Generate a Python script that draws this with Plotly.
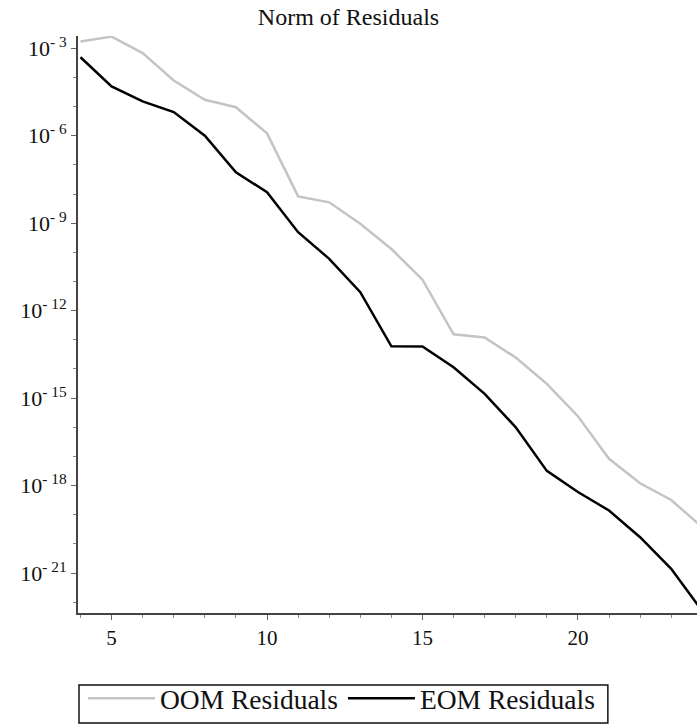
import plotly.graph_objects as go

iterations = list(range(4, 25))
oom_residuals = [1.7e-3, 2.5e-3, 6.8e-4, 7.8e-5, 1.7e-5, 9.5e-6, 1.2e-6, 8.3e-9, 5.2e-9,
                 9.5e-10, 1.3e-10, 1.15e-11, 1.55e-13, 1.2e-13, 2.45e-14, 3.1e-15,
                 2.4e-16, 8.3e-18, 1.2e-18, 3.2e-19, 3.7e-20]
eom_residuals = [4.9e-4, 4.9e-5, 1.5e-5, 6.5e-6, 1.0e-6, 5.6e-8, 1.15e-8, 4.9e-10, 6.0e-11,
                 4.3e-12, 6.0e-14, 5.9e-14, 1.15e-14, 1.4e-15, 1.0e-16, 3.2e-18,
                 6.0e-19, 1.4e-19, 1.7e-20, 1.4e-21, 5.0e-23]

y_tick_exponents = [-3, -6, -9, -12, -15, -18, -21]
y_tick_vals = [10.0 ** e for e in y_tick_exponents]
y_tick_text = ["10<sup>- %d</sup>" % (-e) for e in y_tick_exponents]
y_minor_vals = [10.0 ** (-k) for k in range(3, 23)]
x_tick_vals = [5, 10, 15, 20]

FONT = "Liberation Serif"

fig = go.Figure()
fig.add_trace(go.Scatter(x=iterations, y=oom_residuals, mode="lines",
                         name="OOM Residuals",
                         line=dict(color="#c4c4c4", width=2.5)))
fig.add_trace(go.Scatter(x=iterations, y=eom_residuals, mode="lines",
                         name="EOM Residuals",
                         line=dict(color="#000000", width=2.5)))

# legend frame (drawn as a paper-referenced rectangle so it fits tightly)
fig.add_shape(type="rect", xref="paper", yref="paper",
              x0=0.0016, x1=0.856, y0=-0.1906, y1=-0.1248,
              line=dict(color="#111111", width=1.5), fillcolor="rgba(0,0,0,0)")

fig.update_layout(
    width=697, height=725,
    margin=dict(l=78, r=0, t=36, b=112, autoexpand=False),
    paper_bgcolor="white", plot_bgcolor="white",
    font=dict(family=FONT, color="#111111"),
    title=dict(text="Norm of Residuals", x=0.5, xanchor="center",
               y=1 - 8 / 725, yanchor="top", yref="container",
               font=dict(family=FONT, size=24, color="#111111")),
    showlegend=True,
    legend=dict(orientation="h", x=0.008, xanchor="left", y=-0.1057, yanchor="top",
                borderwidth=0, bgcolor="rgba(0,0,0,0)",
                font=dict(family=FONT, size=27.5, color="#111111"),
                itemwidth=67, tracegroupgap=0),
)

fig.update_xaxes(
    range=[3.92, 23.83], showgrid=False, zeroline=False, automargin=False,
    showline=True, linecolor="#444444", linewidth=2,
    tickmode="array", tickvals=x_tick_vals,
    ticks="outside", ticklen=5, tickcolor="#666666", tickwidth=1,
    tickfont=dict(family=FONT, size=21, color="#111111"),
    minor=dict(dtick=1, tick0=0, ticks="outside", ticklen=3, tickcolor="#888888", showgrid=False),
)
fig.update_yaxes(
    type="log", range=[-22.37, -2.58], showgrid=False, zeroline=False, automargin=False,
    showline=True, linecolor="#444444", linewidth=2,
    tickmode="array", tickvals=y_tick_vals, ticktext=y_tick_text,
    ticks="outside", ticklen=5, tickcolor="#666666", tickwidth=1,
    tickfont=dict(family=FONT, size=22, color="#111111"),
    minor=dict(tickmode="array", tickvals=y_minor_vals, ticks="outside", ticklen=3,
               tickcolor="#888888", showgrid=False),
)

fig.write_html("out.html", config={"displayModeBar": False},
               post_script="document.body.style.margin='0';document.body.style.overflow='hidden';")
